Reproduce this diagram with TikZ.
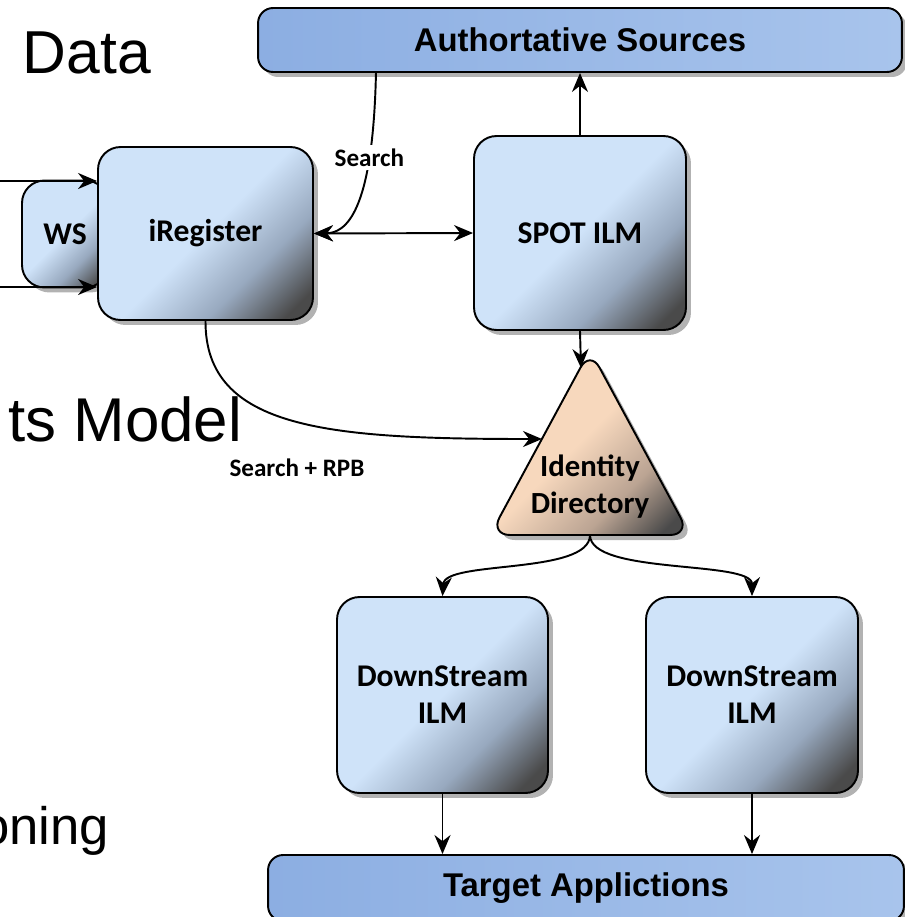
\documentclass[tikz,border=0pt]{standalone}
\usepackage{fontspec}
\setmainfont{Carlito}
\newfontfamily\arialfont{Liberation Sans}
\usetikzlibrary{shadows,arrows.meta}

\definecolor{boxlight}{HTML}{CFE3F9}
\definecolor{boxmid}{HTML}{98A9BF}
\definecolor{boxdark}{HTML}{4A4A4A}
\definecolor{peach}{HTML}{F7D8BD}
\definecolor{peachmid}{HTML}{BBA493}
\definecolor{barleft}{HTML}{8CAEE2}
\definecolor{barright}{HTML}{A8C4EC}

\pgfdeclarehorizontalshading{boxshade}{100bp}{color(0bp)=(boxlight); color(50bp)=(boxlight); color(66bp)=(boxmid); color(80bp)=(boxdark); color(100bp)=(boxdark)}
\pgfdeclarehorizontalshading{idshade}{100bp}{color(0bp)=(peach); color(48bp)=(peach); color(66bp)=(peachmid); color(80bp)=(boxdark); color(100bp)=(boxdark)}

\tikzset{
  shade/.style={drop shadow={shadow xshift=0.1cm, shadow yshift=-0.1cm, fill=gray!60, opacity=1}},
  ilm/.style={draw, line width=1.1pt, rounded corners=0.45cm, shading=boxshade, shading angle=-45,
    shade, align=center, inner sep=0pt, font=\bfseries\fontsize{18}{21}\selectfont},
  bar/.style={draw, line width=1.1pt, rounded corners=0.3cm, left color=barleft, right color=barright,
    shade, font=\arialfont\bfseries\fontsize{18.7}{21}\selectfont},
  lbl/.style={font=\bfseries\fontsize{14.3}{16}\selectfont},
  bigtext/.style={font=\arialfont\fontsize{34.5}{40}\selectfont}
}

\begin{document}
\begin{tikzpicture}[x=0.02cm, y=-0.02cm, line width=1.1pt, >={Stealth[length=0.38cm,width=0.32cm]}]
  \useasboundingbox (0,0) rectangle (904,917);

  % slide text behind the diagram
  \node[bigtext, anchor=base west, inner sep=0pt] (data) at (22,73) {Data};
  \node[bigtext, anchor=base east, inner sep=0pt, font=\arialfont\fontsize{35.2}{40}\selectfont] (model) at (243,441) {ts Model};
  \node[bigtext, anchor=base east, inner sep=0pt, font=\arialfont\fontsize{30}{36}\selectfont] (oning) at (110,844) {oning};

  % boxes
  \node[bar, minimum width=12.88cm, minimum height=1.28cm] (auth) at (580,40) {Authortative Sources};
  \node[bar, minimum width=12.72cm, minimum height=1.32cm] (tgt) at (586,888) {Target Applictions};

  \node[ilm, minimum width=1.72cm, minimum height=2.14cm] (ws) at (65,234) {WS};
  \node[ilm, minimum width=4.3cm, minimum height=3.46cm] (ireg) at (205.5,233.5) {iRegister};
  \node[ilm, minimum width=4.24cm, minimum height=3.88cm] (spot) at (580,233) {SPOT ILM};
  \node[ilm, minimum width=4.22cm, minimum height=3.92cm] (dsl) at (442.5,695) {DownStream\\ILM};
  \node[ilm, minimum width=4.24cm, minimum height=3.92cm] (dsr) at (752,695) {DownStream\\ILM};

  % identity directory
  \draw[rounded corners=0.4cm, shading=idshade, shading angle=-45, shade]
    (590,535) -- (490,535) -- (590,350) -- (690,535) -- cycle;
  \node[align=center, font=\bfseries\fontsize{17.5}{21}\selectfont] (idir) at (590,487) {Identity\\Directory};
  \coordinate (idtop) at (581,368);
  \coordinate (idleft) at (542,439);
  \coordinate (idbot) at (590,535);

  % connectors
  \coordinate (wsa) at (0,181);
  \coordinate (wsb) at (0,287);
  \draw[->] (wsa) -- (wsa -| ireg.west);
  \draw[->] (wsb) -- (wsb -| ireg.west);

  \coordinate (srch) at (376,72);
  \draw[->] (srch) .. controls (373,215) and (345,233) .. (ireg.east)
    node[pos=0.25, lbl, fill=white, inner sep=2pt] {Search};
  \draw[<->] (ireg.east) -- (spot.west);
  \draw[->] (spot.north) -- (spot.north |- auth.south);
  \draw[->] (spot.south) -- (idtop);

  \draw[->] (ireg.south) .. controls (205,430) and (330,439) .. (idleft);
  \node[lbl] (rpb) at (297,468) {Search + RPB};

  \draw[->] (idbot) .. controls (590,575) and (445,560) .. (dsl.north);
  \draw[->] (idbot) .. controls (590,575) and (752,560) .. (dsr.north);

  \draw[->] (dsl.south) -- (dsl.south |- tgt.north);
  \draw[->] (dsr.south) -- (dsr.south |- tgt.north);
\end{tikzpicture}
\end{document}
